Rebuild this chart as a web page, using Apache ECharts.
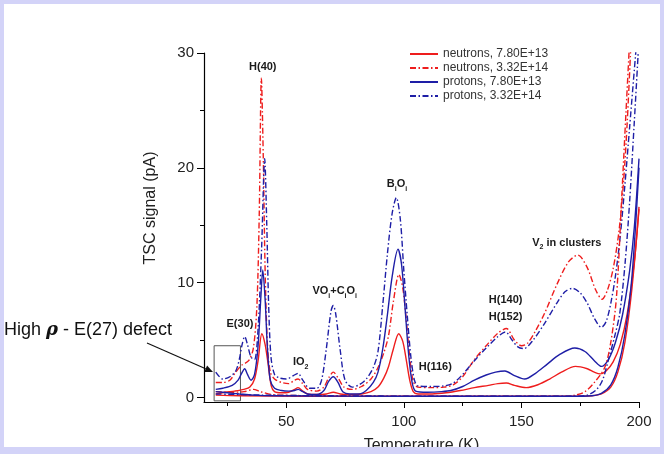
<!DOCTYPE html>
<html>
<head>
<meta charset="utf-8">
<script src="https://cdn.jsdelivr.net/npm/echarts@6/dist/echarts.min.js"></script>
<style>
  html, body { margin: 0; padding: 0; background: #fff; }
  #chart { width: 664px; height: 454px; }
</style>
</head>
<body>
<div id="chart"></div>
<script>
// TSC spectra, [temperature K, signal pA]
const neutronsLow = [[20,0.3],[24,0.45],[28,0.55],[32,0.7],[34.5,0.9],[36.5,1.6],[38,3.2],[39.6,5.55],[41,4.6],[42.2,3.0],[43.6,1.0],[45,0.5],[48,0.4],[51,0.45],[53.5,0.7],[55,0.85],[57,0.55],[59,0.3],[63,0.25],[67,0.3],[70,0.45],[73,0.3],[77,0.25],[82,0.3],[86,0.5],[89,0.9],[91.5,1.7],[93.5,2.7],[95.5,4.2],[97.8,5.55],[99.5,4.9],[101,3.3],[102.5,1.5],[104,0.5],[106,0.3],[112,0.3],[118,0.4],[124,0.6],[130,0.85],[136,1.05],[140,1.2],[143.6,1.25],[147,1.05],[152,0.85],[157,1.1],[162,1.6],[167,2.2],[173,2.7],[178,2.5],[181,2.2],[183.5,2.05],[186,2.3],[189,3.1],[192,4.6],[195,7.3],[198,11.8],[200,16.6]];
const neutronsHigh = [[20,1.3],[23,1.3],[26,1.5],[28.5,2.2],[31,2.8],[34,3.2],[36,4.3],[37.5,8],[38.5,16],[39.4,27.8],[40.2,21],[41,11],[42,4.5],[43.2,2.2],[45,1.6],[48,1.3],[51,1.2],[53.5,1.5],[55,1.6],[57,1.2],[59,0.7],[63,0.55],[66,0.9],[68,1.7],[70,2.2],[72,1.7],[74.5,0.9],[78,0.7],[82,0.95],[86,1.6],[89,2.6],[91.5,3.9],[93.5,5.4],[95.5,8.3],[97.9,10.7],[99.5,9.6],[101,6.8],[102.5,3.5],[104,1.4],[106,0.9],[112,0.85],[117,0.9],[121,1.1],[125,1.8],[130,3.3],[135,4.5],[140,5.6],[143.6,6.0],[147,5.0],[150,4.5],[152.5,4.7],[156,5.8],[160,7.4],[165,9.8],[170,11.8],[174,12.4],[178,11.3],[181.5,9.4],[184.3,8.55],[186.5,9.3],[189,11.2],[191.5,14.5],[193.5,19],[195,24],[196.5,30.5]];
const protonsLow = [[20,0.7],[23,0.8],[27,1.05],[29.5,1.5],[31,2.1],[32.3,2.5],[33.5,2.0],[35,1.5],[36.5,2.0],[38,4.5],[39.2,8.8],[40,11.1],[41,8.5],[42,4.2],[43.2,1.5],[45,0.8],[48,0.6],[51,0.55],[53.5,0.6],[55,0.7],[57,0.5],[59,0.3],[63,0.25],[66,0.6],[68,1.4],[70,1.8],[72,1.3],[74,0.5],[77,0.3],[81,0.3],[84,0.6],[87,1.3],[89,2.2],[91,4.2],[93,7.2],[95,10.5],[97.5,12.9],[99,11.6],[100.5,7.8],[102,3.8],[103.5,1.3],[105,0.55],[110,0.45],[116,0.5],[120,0.6],[125,0.95],[130,1.5],[135,1.95],[139,2.2],[143,2.3],[147,1.9],[151.4,1.6],[156,2.1],[161,2.9],[166,3.7],[172.7,4.3],[177,4.0],[181,3.2],[184,2.7],[187,3.3],[190,4.8],[193,7.2],[196,11],[198,14.8],[200,20.8]];
const protonsHigh = [[20,2.2],[23,1.6],[26,1.8],[28.5,2.3],[30,3.3],[31.2,4.6],[32.3,5.3],[33.5,4.6],[35,3.5],[36.5,3.3],[38,6],[39.5,13],[40.8,20.8],[41.7,15],[42.5,8],[43.5,3.5],[45,2.0],[47,1.7],[50,1.6],[53,1.9],[55,2.1],[57,1.5],[60,0.8],[63,0.8],[65,1.5],[67,4.2],[69,7.5],[70,8.0],[71,7.3],[73,4],[75,1.5],[78,0.9],[81,1.1],[84,1.6],[87,2.6],[89,4.0],[91,8.0],[93,12.5],[95,16],[96.8,17.4],[98.5,15.5],[100,11],[101.5,7],[103,3.5],[104.5,1.5],[106,1.0],[112,0.95],[117,1.0],[121,1.25],[125,2.0],[130,3.2],[135,4.3],[140,5.3],[143.2,5.7],[146,5.0],[148.5,4.4],[151,4.25],[155,5.0],[160,6.5],[165,8.2],[168.5,9.2],[171.7,9.5],[175,9.1],[178,8.2],[181,6.9],[184,6.1],[186,6.6],[188,8.2],[190,10.6],[192,14],[194,18.5],[196,23.5],[198.8,30.5]];

// background (dark) currents
const neutronsLowBg = [[20,0.2],[30,0.15],[60,0.1],[120,0.1],[170,0.1],[180,0.15],[184,0.3],[188,0.9],[191,2.2],[194,4.8],[197,9.5],[200,16.4]];
const neutronsHighBg = [[20,0.5],[26,0.45],[32,0.5],[36,0.7],[39,0.5],[44,0.25],[60,0.15],[120,0.1],[168,0.1],[173,0.2],[177,0.5],[181,1.3],[185.4,2.6],[188,4.8],[190.4,8.7],[192.6,17.2],[194.5,25],[196,31]];
const protonsLowBg = [[20,0.5],[25,0.4],[30,0.3],[36,0.2],[45,0.15],[100,0.1],[170,0.1],[180,0.15],[184,0.35],[188,1.1],[191,2.6],[194,5.5],[197,10.5],[200,20.0]];
const protonsHighBg = [[20,0.3],[30,0.25],[40,0.2],[60,0.15],[120,0.1],[172,0.1],[178,0.2],[182,0.7],[184.5,1.5],[186.9,3.2],[189.5,5.2],[191.8,7.3],[194,11.5],[196,17],[198,24],[199.8,30.5]];

const seriesNames = ['neutrons, 7.80E+13', 'neutrons, 3.32E+14', 'protons, 7.80E+13', 'protons, 3.32E+14'];
const xMajor = [50, 100, 150, 200];
const xMinor = [25, 75, 125, 175];
const yMajor = [0, 10, 20, 30];
const yMinor = [5, 15, 25];

const peakLabels = [
  { text: '{b|H(40)}', at: [40.0, 28.8] },
  { text: '{b|E(30)}', at: [30.3, 6.4] },
  { text: '{b|IO}{s|2}', at: [56.1, 3.05] },
  { text: '{b|VO}{s|i}{b|+C}{s|i}{b|O}{s|i}', at: [70.6, 9.24] },
  { text: '{b|B}{s|i}{b|O}{s|i}', at: [97.1, 18.57] },
  { text: '{b|H(116)}', at: [113.4, 2.66] },
  { text: '{b|H(140)}', at: [143.3, 8.5] },
  { text: '{b|H(152)}', at: [143.3, 6.99] },
  { text: '{b|V}{s|2}{b| in clusters}', at: [169.3, 13.47] }
];

const RED = '#ee1d1d';
const BLUE = '#1e1ea6';
const DASHDOT = [6, 2.5, 1.5, 2.5];
const FONT = 'Liberation Sans, Arial, sans-serif';

function line(name, data, color, dashed) {
  return {
    name: name,
    type: 'line',
    data: data,
    smooth: 0.3,
    symbol: 'none',
    color: color,
    lineStyle: { width: 1.4, color: color, type: dashed ? DASHDOT : 'solid' },
    animation: false
  };
}

const chart = echarts.init(document.getElementById('chart'));

const series = [
  line(seriesNames[0], neutronsLow, RED, false),
  line(seriesNames[1], neutronsHigh, RED, true),
  line(seriesNames[2], protonsLow, BLUE, false),
  line(seriesNames[3], protonsHigh, BLUE, true),
  line(seriesNames[0], neutronsLowBg, RED, false),
  line(seriesNames[1], neutronsHighBg, RED, true),
  line(seriesNames[2], protonsLowBg, BLUE, false),
  line(seriesNames[3], protonsHighBg, BLUE, true)
];

// peak names and the E(27) box
series[0].markPoint = {
  symbol: 'circle',
  symbolSize: 1,
  itemStyle: { color: 'rgba(0,0,0,0)' },
  label: {
    show: true,
    position: 'inside',
    rich: {
      b: { fontFamily: FONT, fontSize: 11, fontWeight: 'bold', color: '#1a1a1a', lineHeight: 16 },
      s: { fontFamily: FONT, fontSize: 7, fontWeight: 'bold', color: '#1a1a1a', verticalAlign: 'bottom', lineHeight: 8 }
    }
  },
  data: peakLabels.map(p => ({ coord: p.at, label: { formatter: p.text } }))
};
series[0].markArea = {
  silent: true,
  itemStyle: { color: 'rgba(0,0,0,0)', borderColor: '#555', borderWidth: 1 },
  data: [[{ coord: [19.3, 4.5] }, { coord: [30.5, -0.3] }]]
};

const axisLabelStyle = { fontFamily: FONT, fontSize: 15, color: '#222' };

chart.setOption({
  backgroundColor: '#fff',
  animation: false,
  grid: { left: 204, right: 25, top: 53, bottom: 52, outerBoundsMode: 'none', containLabel: false },
  legend: {
    data: seriesNames,
    orient: 'vertical',
    left: 409,
    top: 48,
    padding: 0,
    itemWidth: 28,
    itemHeight: 10,
    itemGap: 2,
    itemStyle: { opacity: 0 },
    textStyle: { fontFamily: FONT, fontSize: 12, color: '#333', lineHeight: 12 }
  },
  xAxis: [
    {
      type: 'value', min: 15, max: 200, position: 'bottom',
      axisLine: { onZero: false, lineStyle: { color: '#000', width: 1.2 } },
      axisTick: { customValues: xMajor, length: 6, lineStyle: { color: '#000' } },
      axisLabel: Object.assign({ customValues: xMajor, margin: 12 }, axisLabelStyle),
      splitLine: { show: false },
      name: 'Temperature (K)', nameLocation: 'middle', nameGap: 36,
      nameTextStyle: { fontFamily: FONT, fontSize: 16, color: '#222' }
    },
    {
      type: 'value', min: 15, max: 200, position: 'bottom',
      axisLine: { show: false, onZero: false },
      axisTick: { customValues: xMinor, length: 4, lineStyle: { color: '#000' } },
      axisLabel: { show: false },
      splitLine: { show: false }
    }
  ],
  yAxis: [
    {
      type: 'value', min: -0.4, max: 30, position: 'left',
      axisLine: { show: true, onZero: false, lineStyle: { color: '#000', width: 1.2 } },
      axisTick: { show: true, customValues: yMajor, length: 7, lineStyle: { color: '#000' } },
      axisLabel: Object.assign({ customValues: yMajor, margin: 10 }, axisLabelStyle),
      splitLine: { show: false }
    },
    {
      type: 'value', min: -0.4, max: 30, position: 'left',
      axisLine: { show: false, onZero: false },
      axisTick: { show: true, customValues: yMinor, length: 4, lineStyle: { color: '#000' } },
      axisLabel: { show: false },
      splitLine: { show: false }
    }
  ],
  series: series
});

// arrow from the annotation to the box
const tail = [147, 343], tip = [213, 372];
const dx = tip[0] - tail[0], dy = tip[1] - tail[1];
const len = Math.sqrt(dx * dx + dy * dy), ux = dx / len, uy = dy / len;
const bx = tip[0] - 8 * ux, by = tip[1] - 8 * uy;

const frame = '#d3d3f8';
chart.setOption({
  graphic: [
    {
      type: 'text', x: 151, y: 208, rotation: Math.PI / 2,
      style: { text: 'TSC signal (pA)', font: '16px ' + FONT, fill: '#222', align: 'center', verticalAlign: 'middle' }
    },
    {
      type: 'text', x: 4, y: 330,
      style: {
        text: '{n|High }{r|ρ}{n| - E(27) defect}',
        verticalAlign: 'middle',
        rich: {
          n: { fontFamily: FONT, fontSize: 18, fill: '#111' },
          r: { fontFamily: 'DejaVu Serif, serif', fontSize: 18, fontStyle: 'italic', fontWeight: 'bold', fill: '#111' }
        }
      }
    },
    { type: 'line', shape: { x1: tail[0], y1: tail[1], x2: bx, y2: by }, style: { stroke: '#111', lineWidth: 1.2 } },
    {
      type: 'polygon',
      shape: { points: [tip, [bx - 3.5 * uy, by + 3.5 * ux], [bx + 3.5 * uy, by - 3.5 * ux]] },
      style: { fill: '#111' }
    },
    { type: 'rect', z: 100, shape: { x: 0, y: 0, width: 664, height: 4 }, style: { fill: frame } },
    { type: 'rect', z: 100, shape: { x: 0, y: 0, width: 4, height: 454 }, style: { fill: frame } },
    { type: 'rect', z: 100, shape: { x: 660, y: 0, width: 4, height: 454 }, style: { fill: frame } },
    { type: 'rect', z: 100, shape: { x: 0, y: 447, width: 664, height: 7 }, style: { fill: frame } }
  ]
});
</script>
</body>
</html>
